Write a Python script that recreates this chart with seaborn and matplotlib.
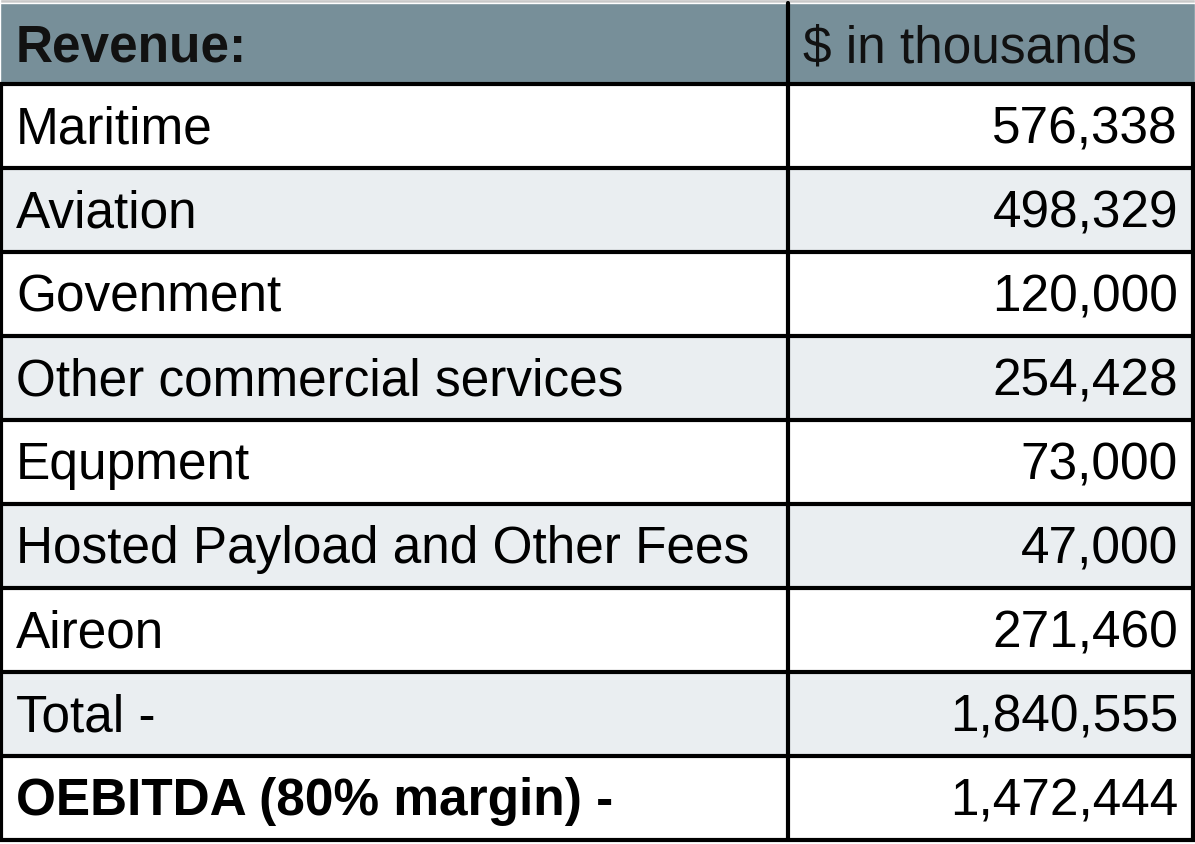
import seaborn as sns
import matplotlib.pyplot as plt

sns.set_theme(style='white')
plt.rcParams['font.family'] = ['Liberation Sans', 'DejaVu Sans']

header = ['Revenue:', '$ in thousands']
labels = ['Maritime', 'Aviation', 'Govenment', 'Other commercial services', 'Equpment',
          'Hosted Payload and Other Fees', 'Aireon', 'Total -', 'OEBITDA (80% margin) -']
values = ['576,338', '498,329', '120,000', '254,428', '73,000', '47,000', '271,460',
          '1,840,555', '1,472,444']
shade = [False, True, False, True, False, True, False, True, False]

W, H = 1195, 845
top, head_h, row_h, split = 4, 81, 84, 788

fig = plt.figure(figsize=(W / 100, H / 100), dpi=100)
ax = fig.add_axes([0, 0, 1, 1])
ax.set_xlim(0, W)
ax.set_ylim(H, 0)
ax.axis('off')

ax.barh([top / 2], [W], height=top, color='#c8c8c8', align='center')
ax.barh([top + head_h / 2], [W], height=head_h, color='#778f99', align='center')
ys = [top + head_h + row_h * (i + 0.5) for i in range(len(labels))]
cols = ['#eaeef1' if s else 'white' for s in shade]
ax.barh(ys, [W] * len(ys), height=row_h, color=cols, align='center')

lw = 3
bottom = top + head_h + row_h * len(labels)
for i in range(len(labels) + 1):
    ax.axhline(top + head_h + row_h * i, color='black', lw=lw)
ax.plot([split, split], [top, bottom], color='black', lw=lw)
ax.plot([1.5, 1.5], [top + head_h, bottom], color='black', lw=lw)
ax.plot([W - 1.5, W - 1.5], [top + head_h, bottom], color='black', lw=lw)

fs = 37
ax.text(16, top + head_h / 2 + 4, header[0], fontsize=fs, fontweight='bold', va='center', color='#111111')
ax.text(803, top + head_h / 2 + 4, header[1], fontsize=fs, va='center', color='#111111')
for i, (lab, val) in enumerate(zip(labels, values)):
    bold = lab.startswith('OEBITDA')
    ax.text(16, ys[i] + 3, lab, fontsize=fs, va='center', color='black',
            fontweight='bold' if bold else 'normal')
    ax.text(W - 17, ys[i] + 3, val, fontsize=fs, va='center', ha='right', color='black')

fig.savefig('out.png', dpi=100)
